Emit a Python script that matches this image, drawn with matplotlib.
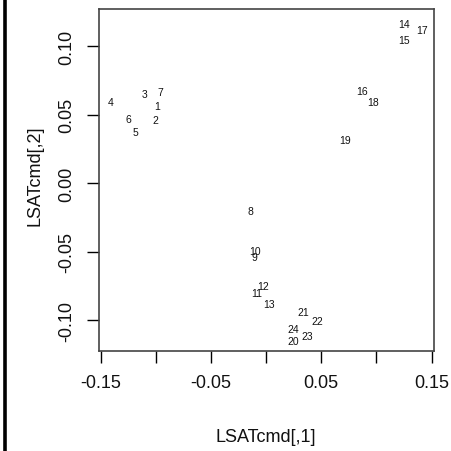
import matplotlib
matplotlib.use("Agg")
import matplotlib.pyplot as plt
from matplotlib.lines import Line2D

plt.rcParams['font.family'] = ['Liberation Sans', 'DejaVu Sans']

labels = [str(i) for i in range(1, 25)]
dim1 = [-0.0986, -0.1001, -0.1098, -0.1409, -0.1189, -0.1250, -0.0956, -0.0139,
        -0.0109, -0.0100, -0.0084, -0.0030, 0.0027, 0.1252, 0.1252, 0.0868,
        0.1413, 0.0974, 0.0717, 0.0248, 0.0338, 0.0460, 0.0375, 0.0242]
dim2 = [0.0564, 0.0460, 0.0650, 0.0589, 0.0370, 0.0467, 0.0667, -0.0202,
        -0.0538, -0.0494, -0.0803, -0.0754, -0.0883, 0.1161, 0.1044, 0.0669,
        0.1119, 0.0589, 0.0316, -0.1151, -0.0944, -0.1010, -0.1119, -0.1066]

xticks = [-0.15, -0.10, -0.05, 0.00, 0.05, 0.10, 0.15]
xticklabels = ['-0.15', '', '-0.05', '', '0.05', '', '0.15']
yticks = [-0.10, -0.05, 0.00, 0.05, 0.10]
yticklabels = ['-0.10', '-0.05', '0.00', '0.05', '0.10']

W, H = 451, 452
fig = plt.figure(figsize=(W / 100, H / 100), dpi=100)
ax = fig.add_axes([99 / W, 1 - 352 / H, 335 / W, 342 / H])

for lab, x, y in zip(labels, dim1, dim2):
    ax.text(x, y, lab, fontsize=7.5, ha='center', va='center', color='#111111')

ax.set_xlim(-0.1515, 0.1522)
ax.set_ylim(-0.1226, 0.127)
ax.set_xticks(xticks)
ax.set_xticklabels(xticklabels)
ax.set_yticks(yticks)
ax.set_yticklabels(yticklabels, rotation=90, va='center')

for s in ax.spines.values():
    s.set_color('#444444')
    s.set_linewidth(1.2)

ax.tick_params(axis='both', direction='out', length=8.6, width=1.0, color='black',
               labelsize=13, labelcolor='#111111')
ax.tick_params(axis='x', pad=8)
ax.tick_params(axis='y', pad=8.5)

fig.text(266 / W, 1 - 438 / H, 'LSATcmd[,1]', fontsize=13, ha='center', va='center',
         color='#111111')
fig.text(35 / W, 1 - 176 / H, 'LSATcmd[,2]', fontsize=13, ha='center', va='center',
         rotation=90, color='#111111')

fig.add_artist(Line2D([5 / W, 5 / W], [0, 1], transform=fig.transFigure,
                      color='black', linewidth=2.6))

fig.savefig('out.png', dpi=100)
